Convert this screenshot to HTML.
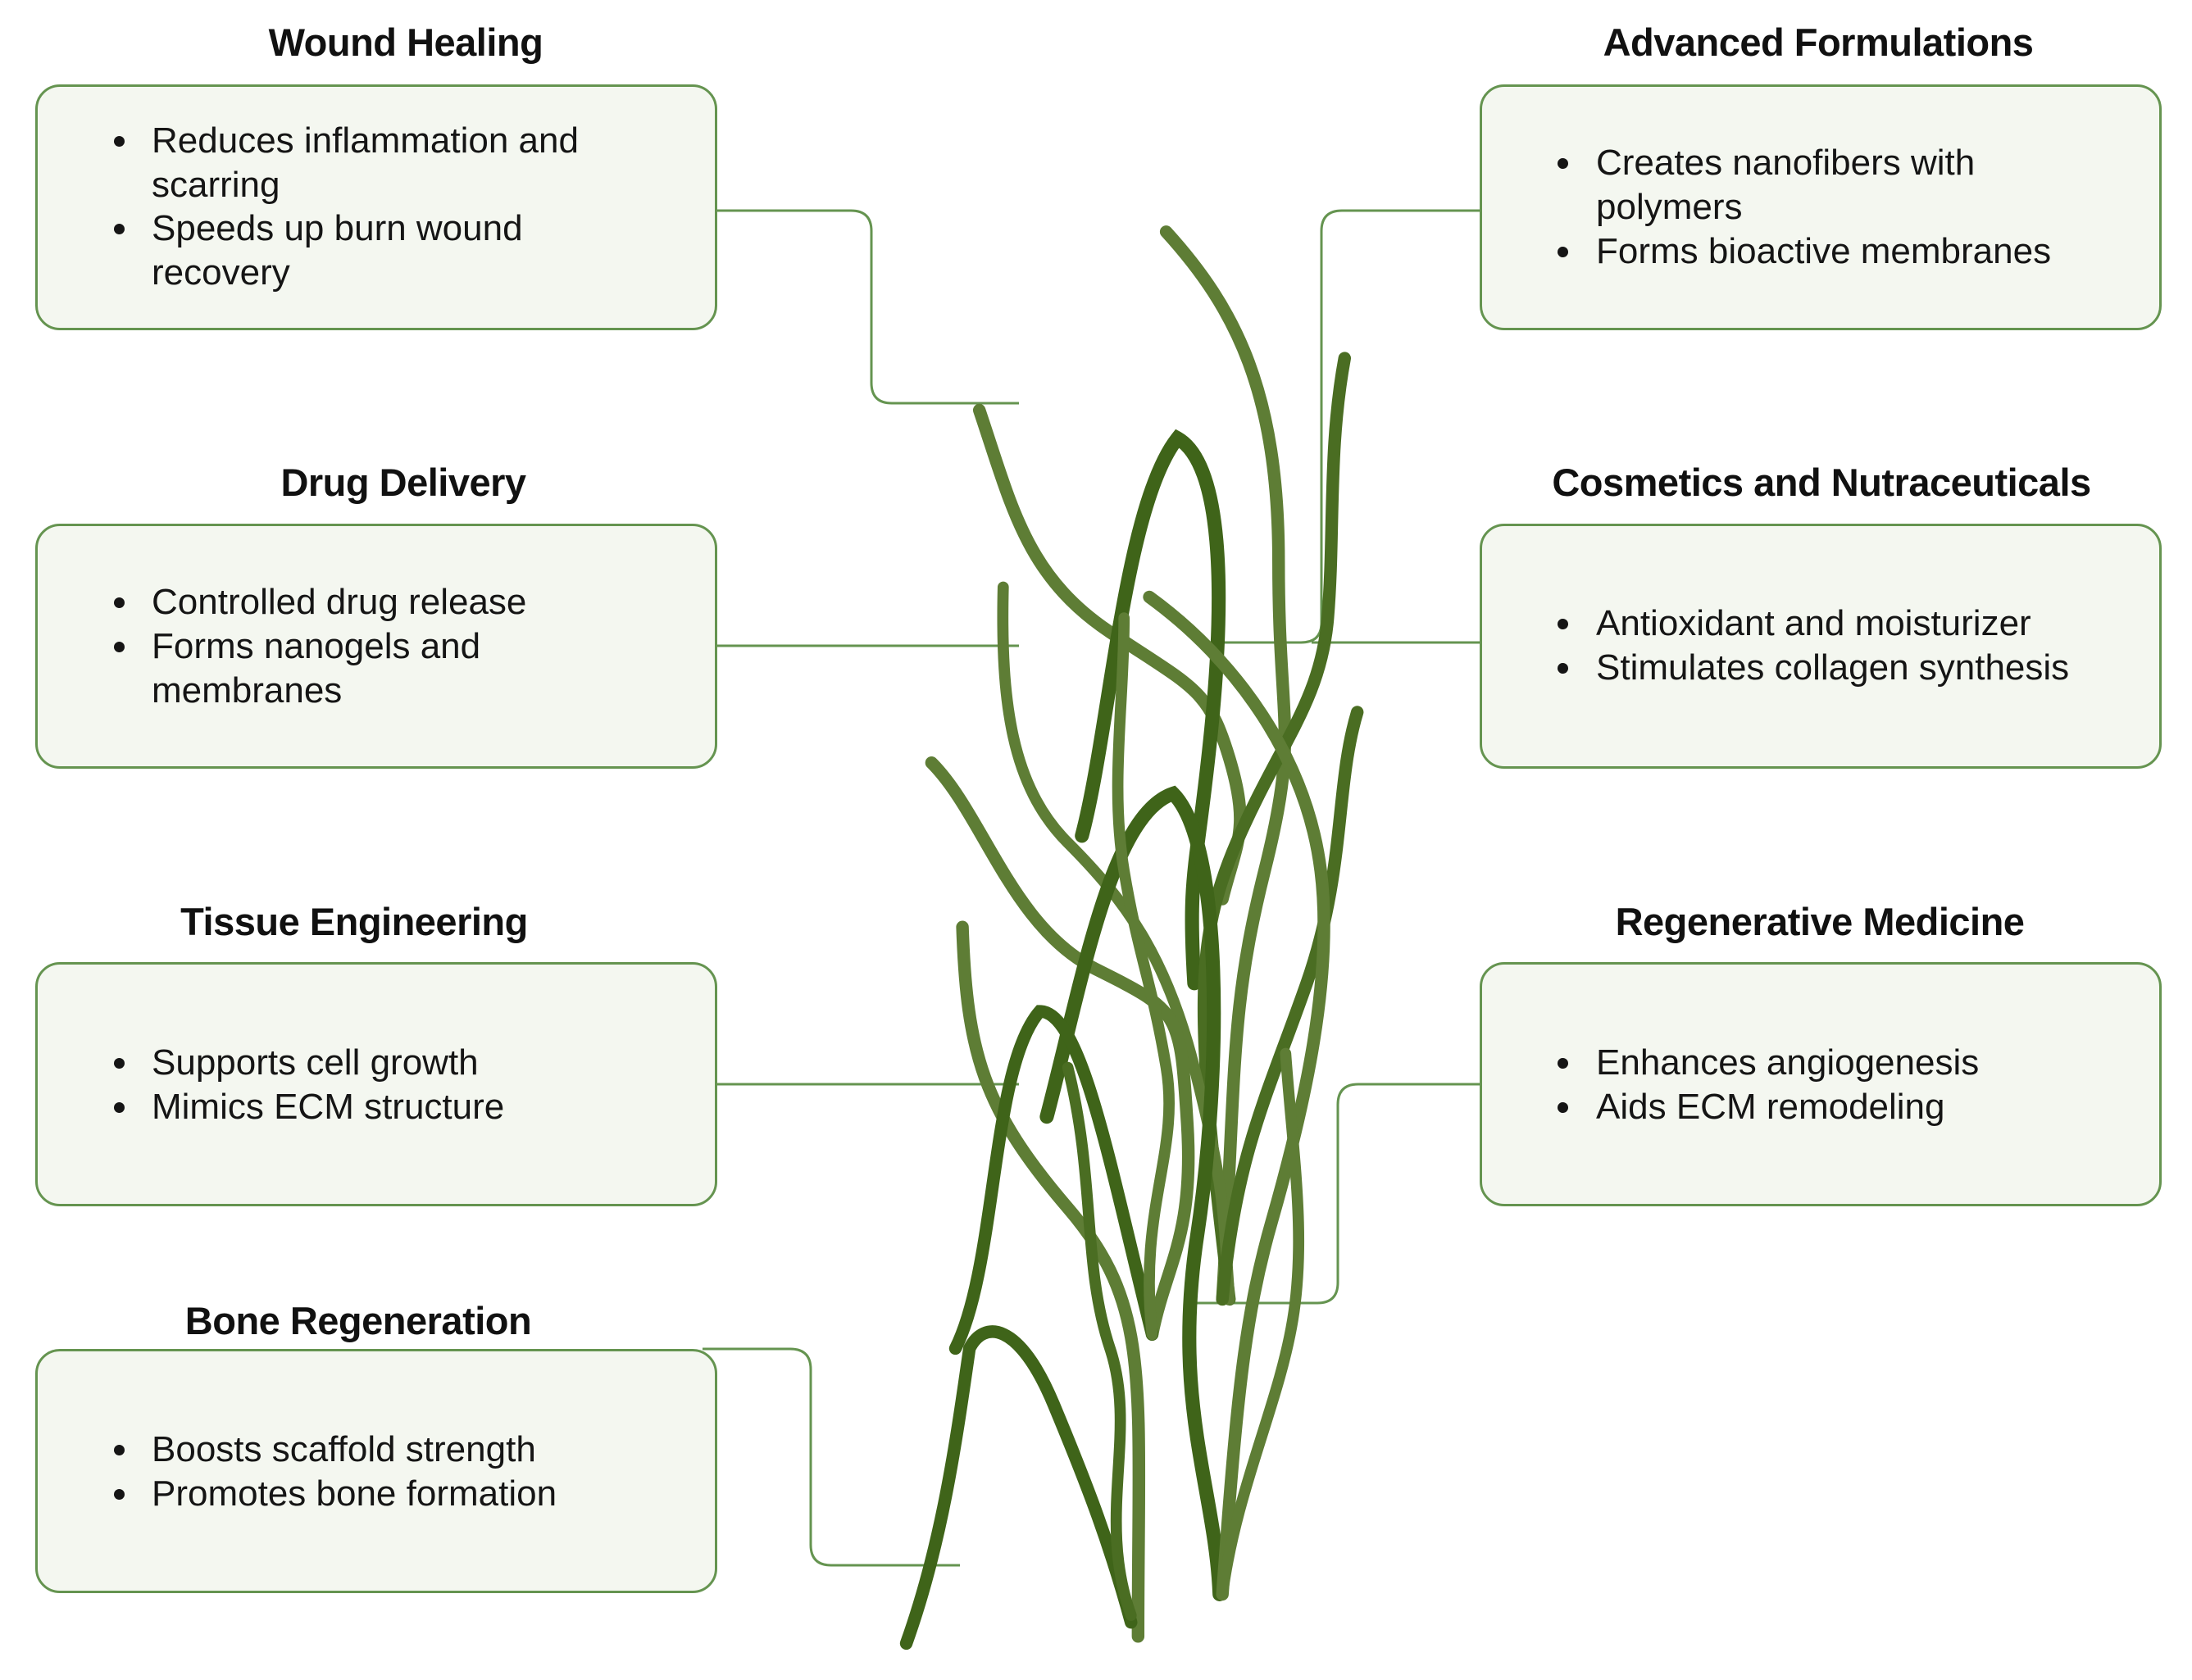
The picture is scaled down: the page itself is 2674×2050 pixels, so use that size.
<!DOCTYPE html>
<html><head><meta charset="utf-8"><style>
html,body{margin:0;padding:0;background:#fff;}
body{width:2674px;height:2050px;position:relative;overflow:hidden;font-family:"Liberation Sans",sans-serif;}
.box{position:absolute;background:#f4f7f0;border:3.5px solid #659450;border-radius:30px;box-sizing:border-box;}
.t{position:absolute;font-weight:bold;font-size:47px;color:#111;transform:translateX(-50%);white-space:nowrap;letter-spacing:-0.5px;}
.l{position:absolute;font-size:44px;color:#151515;white-space:nowrap;line-height:54px;}
.b{position:absolute;width:13px;height:13px;border-radius:50%;background:#151515;}
svg{position:absolute;left:0;top:0;}
</style></head><body>

<div class="box" style="left:43px;top:103px;width:832px;height:300px"></div>
<div class="box" style="left:43px;top:639px;width:832px;height:299px"></div>
<div class="box" style="left:43px;top:1174px;width:832px;height:298px"></div>
<div class="box" style="left:43px;top:1646px;width:832px;height:298px"></div>
<div class="box" style="left:1805px;top:103px;width:832px;height:300px"></div>
<div class="box" style="left:1805px;top:639px;width:832px;height:299px"></div>
<div class="box" style="left:1805px;top:1174px;width:832px;height:298px"></div>

<div class="t" style="left:495px;top:24px">Wound Healing</div>
<div class="t" style="left:492px;top:561px">Drug Delivery</div>
<div class="t" style="left:432px;top:1097px">Tissue Engineering</div>
<div class="t" style="left:437px;top:1584px">Bone Regeneration</div>
<div class="t" style="left:2218px;top:24px">Advanced Formulations</div>
<div class="t" style="left:2222px;top:561px">Cosmetics and Nutraceuticals</div>
<div class="t" style="left:2220px;top:1097px">Regenerative Medicine</div>

<div class="b" style="left:139px;top:166px"></div><div class="l" style="left:185px;top:145px">Reduces inflammation and</div>
<div class="l" style="left:185px;top:199px">scarring</div>
<div class="b" style="left:139px;top:273px"></div><div class="l" style="left:185px;top:252px">Speeds up burn wound</div>
<div class="l" style="left:185px;top:306px">recovery</div>
<div class="b" style="left:139px;top:729px"></div><div class="l" style="left:185px;top:708px">Controlled drug release</div>
<div class="b" style="left:139px;top:783px"></div><div class="l" style="left:185px;top:762px">Forms nanogels and</div>
<div class="l" style="left:185px;top:816px">membranes</div>
<div class="b" style="left:139px;top:1291px"></div><div class="l" style="left:185px;top:1270px">Supports cell growth</div>
<div class="b" style="left:139px;top:1345px"></div><div class="l" style="left:185px;top:1324px">Mimics ECM structure</div>
<div class="b" style="left:139px;top:1763px"></div><div class="l" style="left:185px;top:1742px">Boosts scaffold strength</div>
<div class="b" style="left:139px;top:1817px"></div><div class="l" style="left:185px;top:1796px">Promotes bone formation</div>
<div class="b" style="left:1900px;top:193px"></div><div class="l" style="left:1947px;top:172px">Creates nanofibers with</div>
<div class="l" style="left:1947px;top:226px">polymers</div>
<div class="b" style="left:1900px;top:301px"></div><div class="l" style="left:1947px;top:280px">Forms bioactive membranes</div>
<div class="b" style="left:1900px;top:755px"></div><div class="l" style="left:1947px;top:734px">Antioxidant and moisturizer</div>
<div class="b" style="left:1900px;top:809px"></div><div class="l" style="left:1947px;top:788px">Stimulates collagen synthesis</div>
<div class="b" style="left:1900px;top:1291px"></div><div class="l" style="left:1947px;top:1270px">Enhances angiogenesis</div>
<div class="b" style="left:1900px;top:1345px"></div><div class="l" style="left:1947px;top:1324px">Aids ECM remodeling</div>

<svg width="2674" height="2050" viewBox="0 0 2674 2050">
<g fill="none" stroke="#659450" stroke-width="3">
<path d="M875 257 H1038 Q1063 257 1063 282 V467 Q1063 492 1088 492 H1243"/>
<path d="M875 788 H1243"/>
<path d="M875 1323 H1243"/>
<path d="M857 1646 H964 Q989 1646 989 1671 V1885 Q989 1910 1014 1910 H1171"/>
<path d="M1805 257 H1637 Q1612 257 1612 282 V760 Q1612 784 1587 784 H1490"/>
<path d="M1805 784 H1600"/>
<path d="M1805 1323 H1657 Q1632 1323 1632 1348 V1565 Q1632 1590 1607 1590 H1450"/>
</g>
<g transform="scale(1.714)" fill="none" stroke-linecap="round">
<path d="M697 292 C720 360 730 410 790 450 S860 490 875 540 S880 600 870 640" stroke="#5e7d35" stroke-width="9"/>
<path d="M770 595 C790 520 800 360 838 312 C870 330 872 420 862 520 S845 620 850 700" stroke="#3f6419" stroke-width="10"/>
<path d="M830 165 C880 220 910 280 910 400 S925 520 900 620 S880 760 870 925" stroke="#5e7d35" stroke-width="9"/>
<path d="M957 255 C945 320 950 380 945 440 S910 530 880 600 S850 720 875 925" stroke="#4a6d22" stroke-width="9"/>
<path d="M714 418 C712 500 720 560 760 600 S830 680 850 760 S870 850 875 925" stroke="#5e7d35" stroke-width="8"/>
<path d="M663 543 C700 580 720 660 780 690 S840 720 845 800 S830 900 820 950" stroke="#5e7d35" stroke-width="9"/>
<path d="M745 795 C770 700 790 580 835 565 C870 600 870 760 852 880 S865 1060 868 1135" stroke="#3f6419" stroke-width="10"/>
<path d="M966 507 C950 560 958 620 930 700 S880 820 870 925" stroke="#4a6d22" stroke-width="9"/>
<path d="M818 425 C880 470 930 540 940 620 S925 800 905 870 S880 1000 870 1135" stroke="#5e7d35" stroke-width="9"/>
<path d="M685 660 C688 750 700 790 760 860 S810 980 810 1165" stroke="#5e7d35" stroke-width="9"/>
<path d="M680 960 C710 900 705 760 740 720 C770 720 790 830 820 950" stroke="#3f6419" stroke-width="9"/>
<path d="M645 1170 C670 1100 680 1030 690 960 C700 940 725 940 750 1000 S790 1100 805 1155" stroke="#3f6419" stroke-width="9"/>
<path d="M800 440 C800 500 790 560 800 620 S820 700 830 760 S810 860 820 950" stroke="#5e7d35" stroke-width="8"/>
<path d="M760 760 C780 840 770 900 790 960 S780 1080 805 1150" stroke="#4a6d22" stroke-width="8"/>
<path d="M915 750 C920 820 930 880 920 940 S880 1060 870 1135" stroke="#5e7d35" stroke-width="8"/>
</g>
</svg>
</body></html>
